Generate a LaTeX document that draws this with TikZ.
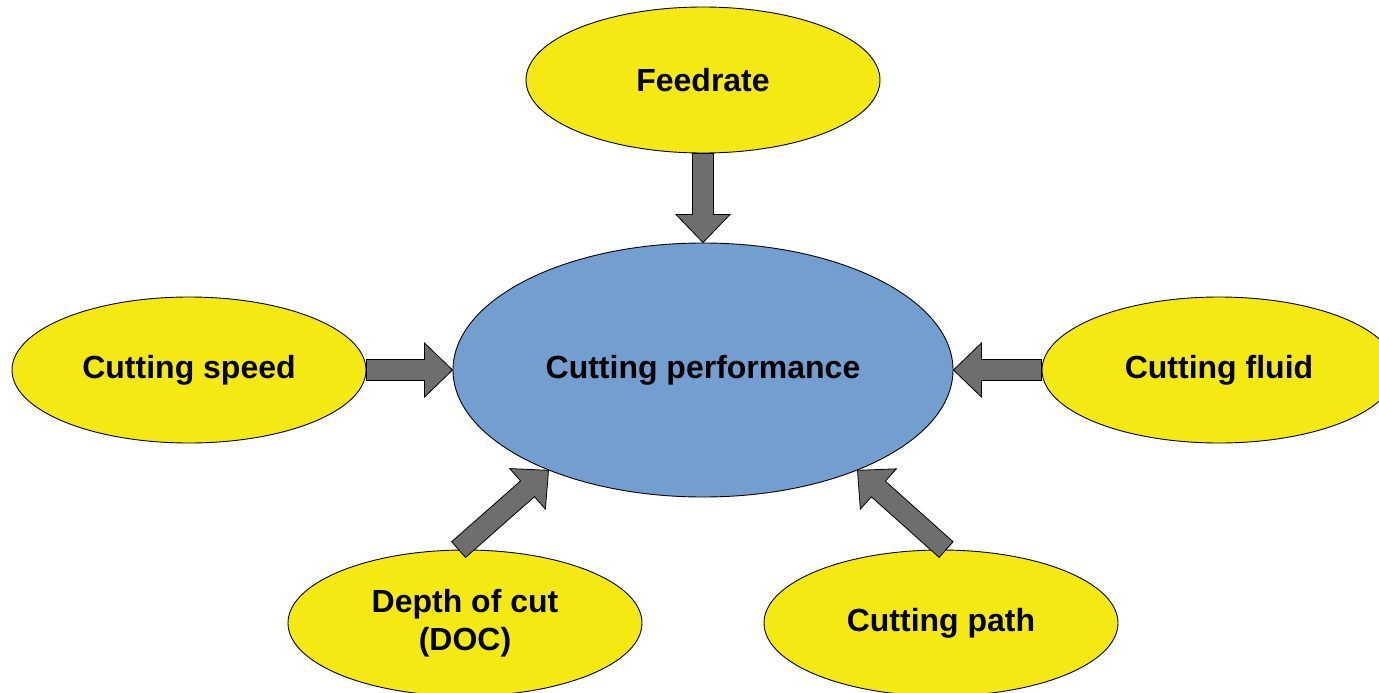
\documentclass[tikz,border=0pt]{standalone}
\usepackage{fontspec}
\setmainfont{Liberation Sans}
\usetikzlibrary{shapes.geometric,calc}

\definecolor{factorfill}{RGB}{245,233,20}
\definecolor{centerfill}{RGB}{114,159,207}
\definecolor{arrowgray}{RGB}{110,110,110}

\tikzset{
  factor/.style={ellipse, draw=black, line width=0.9pt, fill=factorfill,
    minimum width=354pt, minimum height=146pt, inner sep=0pt,
    font=\fontsize{32}{38}\selectfont\bfseries, align=center},
  hub/.style={factor, fill=centerfill, minimum width=500pt, minimum height=254pt},
  arrowbody/.style={draw=black, line width=0.8pt, fill=arrowgray, line join=miter}
}

% block arrow: #1 start, #2 tip, #3 name prefix
\newcommand\blockarrow[3]{%
  \coordinate (#3-a) at #1;
  \coordinate (#3-b) at #2;
  \coordinate (#3-h) at ($(#3-b)!28pt!(#3-a)$);
  \draw[arrowbody]
    ($(#3-a)!10.5pt!90:(#3-b)$) -- ($(#3-h)!10.5pt!90:(#3-b)$) --
    ($(#3-h)!27pt!90:(#3-b)$) -- (#3-b) --
    ($(#3-h)!27pt!-90:(#3-b)$) -- ($(#3-h)!10.5pt!-90:(#3-b)$) --
    ($(#3-a)!10.5pt!-90:(#3-b)$) -- cycle;
}

\begin{document}
\begin{tikzpicture}[x=1pt, y=-1pt]
  \useasboundingbox (0,0) rectangle (1379,693);

  \node[hub]    (perf)  at (703,370) {Cutting performance};
  \node[factor] (feed)  at (703,80)  {Feedrate};
  \node[factor] (speed) at (189,370) {Cutting speed};
  \node[factor] (fluid) at (1219,370) {Cutting fluid};
  \node[factor] (doc)   at (465,623) {Depth of cut\\(DOC)};
  \node[factor] (path)  at (941,623) {Cutting path};

  \blockarrow{(feed.south)}{(perf.north)}{fa}
  \blockarrow{(speed.east)}{(perf.west)}{sa}
  \blockarrow{(fluid.west)}{(perf.east)}{ca}
  \blockarrow{(doc.95)}{(perf.213)}{da}
  \blockarrow{(path.86)}{(perf.327)}{pa}
\end{tikzpicture}
\end{document}
